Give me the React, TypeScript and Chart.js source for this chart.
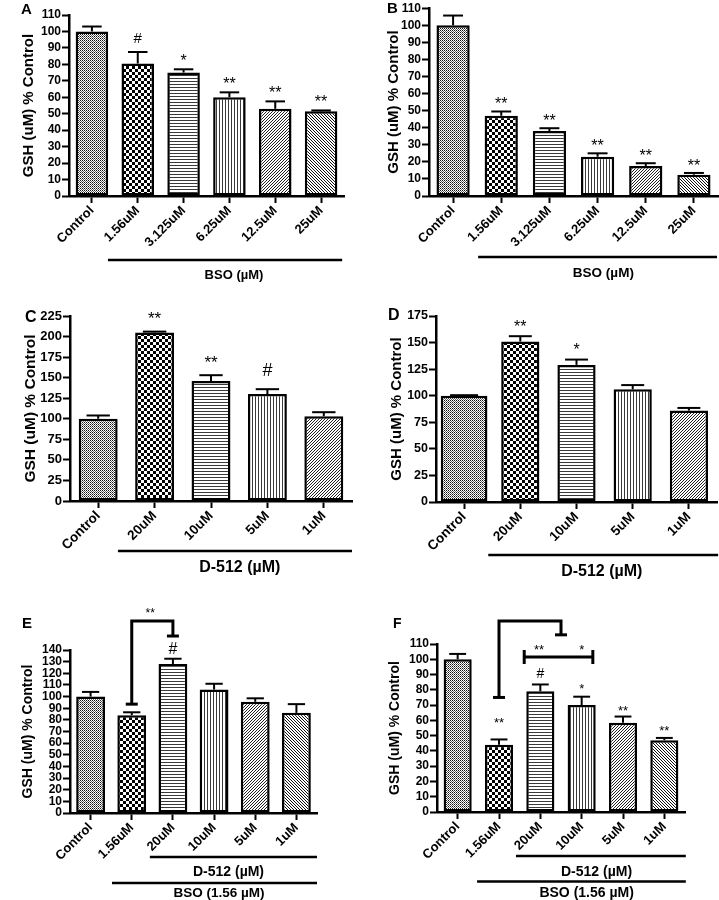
import React, { useEffect, useRef } from 'react';
import { Chart, registerables } from 'chart.js';

Chart.register(...registerables);

const FONT = "'Liberation Sans', Arial, Helvetica, sans-serif";
const Y_TITLE = 'GSH (uM) % Control';

// ---------------- data ----------------
const categoriesA = ['Control', '1.56uM', '3.125uM', '6.25uM', '12.5uM', '25uM'];
const valuesA = [100, 80.5, 75, 60, 53, 51.5];
const errorsA = [3, 7, 2, 3, 4.5, 0.5];
const marksA = ['', '#', '*', '**', '**', '**'];
const yTicksA = [0, 10, 20, 30, 40, 50, 60, 70, 80, 90, 100, 110];
const groupsA = [{ text: 'BSO (\u00b5M)', from: 0.35, to: 5.46, at: 3.1, row: 0 }];

const categoriesB = ['Control', '1.56uM', '3.125uM', '6.25uM', '12.5uM', '25uM'];
const valuesB = [100, 47, 38, 23, 17.5, 12.5];
const errorsB = [5.7, 2.5, 1.7, 2, 1.7, 1];
const marksB = ['', '**', '**', '**', '**', '**'];
const yTicksB = [0, 10, 20, 30, 40, 50, 60, 70, 80, 90, 100, 110];
const groupsB = [{ text: 'BSO (\u00b5M)', from: 0.52, to: 5.48, at: 3.12, row: 0 }];

const categoriesC = ['Control', '20uM', '10uM', '5uM', '1uM'];
const valuesC = [100, 205, 146, 130, 103];
const errorsC = [4, 1, 7, 6, 5];
const marksC = ['', '**', '**', '#', ''];
const yTicksC = [0, 25, 50, 75, 100, 125, 150, 175, 200, 225];
const groupsC = [{ text: 'D-512 (\u00b5M)', from: 0.35, to: 4.5, at: 2.51, row: 0 }];

const categoriesD = ['Control', '20uM', '10uM', '5uM', '1uM'];
const valuesD = [100, 151, 129, 106, 86];
const errorsD = [0.5, 5, 5, 4, 2.5];
const marksD = ['', '**', '*', '', ''];
const yTicksD = [0, 25, 50, 75, 100, 125, 150, 175];
const groupsD = [{ text: 'D-512 (\u00b5M)', from: 0.43, to: 4.52, at: 2.45, row: 0 }];

const categoriesE = ['Control', '1.56uM', '20uM', '10uM', '5uM', '1uM'];
const valuesE = [100, 84, 128, 106, 95.5, 86];
const errorsE = [4, 2.5, 4.5, 5, 3, 7.5];
const marksE = ['', '', '#', '', '', ''];
const yTicksE = [0, 10, 20, 30, 40, 50, 60, 70, 80, 90, 100, 110, 120, 130, 140];
const groupsE = [
  { text: 'D-512 (\u00b5M)', from: 1.44, to: 5.5, at: 3.35, row: 0 },
  { text: 'BSO (1.56 \u00b5M)', from: 0.52, to: 5.5, at: 3.12, row: 1 },
];
const bracketsE = [{ points: [[1, 93.5], [1, 165], [2, 165], [2, 152]], ends: 'flat' }];
const bracketLabelsE = [{ text: '**', at: 1.45, value: 172 }];

const categoriesF = ['Control', '1.56uM', '20uM', '10uM', '5uM', '1uM'];
const valuesF = [100, 44, 79, 70, 58.5, 47];
const errorsF = [3.5, 3.5, 4.5, 5.5, 4, 1.5];
const marksF = ['', '**', '#', '*', '**', '**'];
const yTicksF = [0, 10, 20, 30, 40, 50, 60, 70, 80, 90, 100, 110];
const groupsF = [
  { text: 'D-512 (\u00b5M)', from: 1.41, to: 5.52, at: 3.36, row: 0 },
  { text: 'BSO (1.56 \u00b5M)', from: 0.47, to: 5.52, at: 3.12, row: 1 },
];
const bracketsF = [
  { points: [[1, 75], [1, 125], [2.5, 125], [2.5, 116]], ends: 'flat' },
  { points: [[1.61, 101.5], [3.27, 101.5]], ends: 'tick' },
];
const bracketLabelsF = [
  { text: '**', at: 1.97, value: 106 },
  { text: '*', at: 3.0, value: 106 },
];

// ---------------- patterns ----------------
function makePattern(kind: number): CanvasPattern | string {
  const c = document.createElement('canvas');
  let pts: (number | string)[][] = [];
  switch (kind % 6) {
    case 0: // fine checker
      c.width = 2; c.height = 2; pts = [[0, 0, 1, 1, '#111'], [1, 1, 1, 1, '#666']]; break;
    case 1: // coarse checker
      c.width = 6; c.height = 6; pts = [[0, 0, 3, 3, '#000'], [3, 3, 3, 3, '#000']]; break;
    case 2: // horizontal lines
      c.width = 3; c.height = 3; pts = [[0, 0, 3, 1, '#3a3a3a']]; break;
    case 3: // vertical lines
      c.width = 3; c.height = 3; pts = [[0, 0, 1, 3, '#3a3a3a']]; break;
    case 4: // "/" diagonals
      c.width = 3; c.height = 3; pts = [[2, 0, 1, 1, '#222'], [1, 1, 1, 1, '#222'], [0, 2, 1, 1, '#222']]; break;
    default: // "\" diagonals
      c.width = 3; c.height = 3; pts = [[0, 0, 1, 1, '#111'], [1, 1, 1, 1, '#111'], [2, 2, 1, 1, '#111']]; break;
  }
  const ctx = c.getContext('2d')!;
  ctx.fillStyle = '#fff';
  ctx.fillRect(0, 0, c.width, c.height);
  pts.forEach(([x, y, w, h, col]) => {
    ctx.fillStyle = col as string;
    ctx.fillRect(x as number, y as number, w as number, h as number);
  });
  const ctxMain = document.createElement('canvas').getContext('2d')!;
  return ctxMain.createPattern(c, 'repeat') || '#888';
}

// ---------------- layout / style ----------------
type Row = { line: number; label: number; size: number };
type Layout = {
  left: number; top: number; width: number; height: number;
  area: { l: number; t: number; r: number; b: number };
  titleSize: number; titlePad: number;
  letter: string; letterX: number; letterY: number; letterSize: number;
  yTickSize: number; xTickSize: number;
  astSize: number; hashSize: number; markGap: number[];
  rows: Row[];
  barWidths: number[];
};

type Cfg = {
  categories: string[]; values: number[]; errors: number[]; marks: string[];
  yTicks: number[]; groups: any[]; brackets: any[]; bracketLabels: any[];
  layout: Layout;
};

const fill = (n: number, g: number) => Array.from({ length: n }, () => g);

const layoutA: Layout = {
  left: 0, top: 0, width: 360, height: 300,
  area: { l: 69, t: 15, r: 344, b: 196 },
  titleSize: 15, titlePad: 20, letter: 'A', letterX: 21, letterY: 13.5, letterSize: 15,
  yTickSize: 12, xTickSize: 13, astSize: 16, hashSize: 15, markGap: fill(6, 9),
  rows: [{ line: 64, label: 79, size: 13 }], barWidths: fill(6, 0.71),
};
const layoutB: Layout = {
  left: 360, top: 0, width: 359, height: 300,
  area: { l: 69, t: 7, r: 358, b: 196 },
  titleSize: 15, titlePad: 25, letter: 'B', letterX: 27, letterY: 13, letterSize: 15,
  yTickSize: 12, xTickSize: 13, astSize: 16, hashSize: 15, markGap: fill(6, 8),
  rows: [{ line: 61, label: 77, size: 13.5 }], barWidths: fill(6, 0.69),
};
const layoutC: Layout = {
  left: 0, top: 300, width: 360, height: 300,
  area: { l: 70, t: 16, r: 352, b: 201 },
  titleSize: 15.5, titlePad: 21.5, letter: 'C', letterX: 25, letterY: 22, letterSize: 16,
  yTickSize: 13, xTickSize: 13.5, astSize: 17, hashSize: 18, markGap: fill(5, 13.5),
  rows: [{ line: 50, label: 67, size: 16 }], barWidths: fill(5, 0.69),
};
const layoutD: Layout = {
  left: 360, top: 300, width: 359, height: 300,
  area: { l: 76, t: 16, r: 357, b: 202 },
  titleSize: 15, titlePad: 28, letter: 'D', letterX: 28, letterY: 20, letterSize: 16,
  yTickSize: 12.5, xTickSize: 13.5, astSize: 16, hashSize: 16, markGap: fill(5, 10.5),
  rows: [{ line: 53, label: 70, size: 16 }], barWidths: [0.83, 0.68, 0.68, 0.68, 0.68],
};
const layoutE: Layout = {
  left: 0, top: 600, width: 360, height: 300,
  area: { l: 70, t: 50, r: 317, b: 213 },
  titleSize: 14, titlePad: 19.6, letter: 'E', letterX: 22, letterY: 28, letterSize: 15,
  yTickSize: 12, xTickSize: 13, astSize: 12, hashSize: 16, markGap: fill(6, 5),
  rows: [{ line: 44, label: 59, size: 14 }, { line: 70, label: 80, size: 13.5 }], barWidths: fill(6, 0.7),
};
const layoutF: Layout = {
  left: 360, top: 600, width: 359, height: 300,
  area: { l: 77, t: 44, r: 325, b: 212 },
  titleSize: 14, titlePad: 26.6, letter: 'F', letterX: 33, letterY: 28, letterSize: 14,
  yTickSize: 12, xTickSize: 13, astSize: 13, hashSize: 14, markGap: [7, 16, 6.5, 7.5, 5.6, 7],
  rows: [{ line: 44, label: 60, size: 14 }, { line: 69.5, label: 81, size: 14 }], barWidths: fill(6, 0.68),
};

const panels: Cfg[] = [
  { categories: categoriesA, values: valuesA, errors: errorsA, marks: marksA, yTicks: yTicksA, groups: groupsA, brackets: [], bracketLabels: [], layout: layoutA },
  { categories: categoriesB, values: valuesB, errors: errorsB, marks: marksB, yTicks: yTicksB, groups: groupsB, brackets: [], bracketLabels: [], layout: layoutB },
  { categories: categoriesC, values: valuesC, errors: errorsC, marks: marksC, yTicks: yTicksC, groups: groupsC, brackets: [], bracketLabels: [], layout: layoutC },
  { categories: categoriesD, values: valuesD, errors: errorsD, marks: marksD, yTicks: yTicksD, groups: groupsD, brackets: [], bracketLabels: [], layout: layoutD },
  { categories: categoriesE, values: valuesE, errors: errorsE, marks: marksE, yTicks: yTicksE, groups: groupsE, brackets: bracketsE, bracketLabels: bracketLabelsE, layout: layoutE },
  { categories: categoriesF, values: valuesF, errors: errorsF, marks: marksF, yTicks: yTicksF, groups: groupsF, brackets: bracketsF, bracketLabels: bracketLabelsF, layout: layoutF },
];

function drawGlyph(ctx: CanvasRenderingContext2D, text: string, x: number, bottom: number, size: number) {
  ctx.font = `normal ${size}px ${FONT}`;
  ctx.textAlign = 'center';
  ctx.textBaseline = 'alphabetic';
  const m = ctx.measureText(text);
  ctx.fillText(text, x, bottom - m.actualBoundingBoxDescent);
}

function seg(ctx: CanvasRenderingContext2D, x1: number, y1: number, x2: number, y2: number) {
  ctx.beginPath();
  ctx.moveTo(x1, y1);
  ctx.lineTo(x2, y2);
  ctx.stroke();
}

function Panel({ cfg }: { cfg: Cfg }) {
  const ref = useRef<HTMLCanvasElement>(null);
  const L = cfg.layout;
  useEffect(() => {
    const canvas = ref.current!;
    const patterns = cfg.values.map((_, i) => makePattern(i));
    // one dataset per distinct bar width (drawn ungrouped, so bars stay centred)
    const widths = Array.from(new Set(L.barWidths));
    const datasets = widths.map((w) => ({
      data: cfg.values.map((v, i) => (L.barWidths[i] === w ? v : null)),
      backgroundColor: patterns as any,
      borderColor: '#000',
      borderWidth: 2.5,
      borderSkipped: false as any,
      barPercentage: w,
      categoryPercentage: 1,
      grouped: false,
    }));
    const barAt = (chart: any, i: number) => {
      const d = widths.indexOf(L.barWidths[i]);
      return chart.getDatasetMeta(d).data[i];
    };
    const overlay = {
      id: 'overlay',
      afterDraw(chart: any) {
        const ctx: CanvasRenderingContext2D = chart.ctx;
        const xs = chart.scales.x;
        const ys = chart.scales.y;
        const area = chart.chartArea;
        ctx.save();
        ctx.strokeStyle = '#000';
        ctx.fillStyle = '#000';
        ctx.lineCap = 'butt';
        // error bars + significance marks
        cfg.values.forEach((v, i) => {
          const el: any = barAt(chart, i);
          const x = el.x;
          const w = el.width;
          const yTop = ys.getPixelForValue(v);
          const yCap = ys.getPixelForValue(v + cfg.errors[i]);
          ctx.lineWidth = 2;
          seg(ctx, x, yTop, x, yCap);
          seg(ctx, x - w * 0.3, yCap, x + w * 0.3, yCap);
          const mk = cfg.marks[i];
          if (mk) {
            const size = mk.includes('#') ? L.hashSize : L.astSize;
            drawGlyph(ctx, mk, x, yCap - L.markGap[i], size);
          }
        });
        // comparison brackets
        cfg.brackets.forEach((b: any) => {
          const pts = b.points.map(([i, v]: number[]) => [xs.getPixelForValue(i), ys.getPixelForValue(v)]);
          ctx.lineWidth = 3;
          ctx.lineJoin = 'miter';
          ctx.beginPath();
          pts.forEach(([x, y]: number[], k: number) => (k ? ctx.lineTo(x, y) : ctx.moveTo(x, y)));
          ctx.stroke();
          const ends = [pts[0], pts[pts.length - 1]];
          ends.forEach(([x, y]: number[]) => {
            if (b.ends === 'flat') seg(ctx, x - 6, y, x + 6, y);
            else seg(ctx, x, y - 7, x, y + 7);
          });
        });
        cfg.bracketLabels.forEach((bl: any) => {
          drawGlyph(ctx, bl.text, xs.getPixelForValue(bl.at), ys.getPixelForValue(bl.value), L.astSize);
        });
        // group lines
        cfg.groups.forEach((g: any) => {
          const row = L.rows[g.row];
          const y = area.bottom + row.line;
          ctx.lineWidth = 2.5;
          seg(ctx, xs.getPixelForValue(g.from), y, xs.getPixelForValue(g.to), y);
          ctx.font = `bold ${row.size}px ${FONT}`;
          ctx.textAlign = 'center';
          ctx.textBaseline = 'middle';
          ctx.fillText(g.text, xs.getPixelForValue(g.at), area.bottom + row.label);
        });
        // panel letter
        ctx.font = `bold ${L.letterSize}px ${FONT}`;
        ctx.textAlign = 'left';
        ctx.textBaseline = 'alphabetic';
        ctx.fillText(L.letter, L.letterX, L.letterY);
        ctx.restore();
      },
    };
    const axisGrid = {
      display: true, drawOnChartArea: false, drawTicks: true,
      tickLength: 7, tickWidth: 2, tickColor: '#000', color: '#000',
    };
    const chart = new Chart(canvas, {
      type: 'bar',
      data: { labels: cfg.categories, datasets },
      options: {
        responsive: false,
        animation: false,
        devicePixelRatio: 1,
        events: [],
        layout: { padding: { left: 0, top: L.area.t, right: L.width - L.area.r, bottom: 0 } },
        plugins: { legend: { display: false }, tooltip: { enabled: false } },
        scales: {
          x: {
            type: 'category',
            offset: true,
            grid: { ...axisGrid, offset: false },
            border: { display: true, color: '#000', width: 2.5 },
            ticks: {
              color: '#000',
              font: { family: FONT, size: L.xTickSize, weight: 'bold' },
              minRotation: 45, maxRotation: 45, autoSkip: false, padding: 0,
            },
            afterFit: (s: any) => { s.height = L.height - L.area.b; },
          },
          y: {
            type: 'linear',
            min: 0,
            max: cfg.yTicks[cfg.yTicks.length - 1],
            afterBuildTicks: (s: any) => { s.ticks = cfg.yTicks.map((v) => ({ value: v })); },
            grid: axisGrid,
            border: { display: true, color: '#000', width: 2.5 },
            ticks: {
              color: '#000',
              font: { family: FONT, size: L.yTickSize, weight: 'bold' },
              autoSkip: false, padding: 1,
            },
            title: {
              display: true, text: Y_TITLE, color: '#000',
              font: { family: FONT, size: L.titleSize, weight: 'bold' },
              padding: { top: L.titlePad, bottom: 0 },
            },
            afterFit: (s: any) => { s.width = L.area.l; },
          },
        },
      } as any,
      plugins: [overlay],
    });
    return () => chart.destroy();
  }, []);
  return (
    <canvas
      ref={ref}
      width={L.width}
      height={L.height}
      style={{ position: 'absolute', left: L.left, top: L.top, width: L.width, height: L.height }}
    />
  );
}

export default function App() {
  return (
    <div style={{ position: 'absolute', left: 0, top: 0, width: 719, height: 900, background: '#fff', overflow: 'hidden' }}>
      {panels.map((p, i) => (
        <Panel key={i} cfg={p} />
      ))}
    </div>
  );
}
